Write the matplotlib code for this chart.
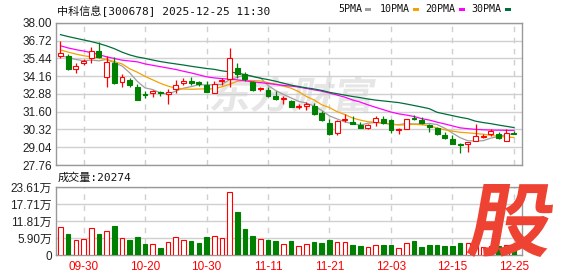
import matplotlib
matplotlib.use('Agg')
import matplotlib.pyplot as plt
from matplotlib.patches import Rectangle, PathPatch
from matplotlib.textpath import TextPath
from matplotlib.font_manager import FontProperties
from matplotlib.transforms import Affine2D

# trading days shown (60 bars)
dates = ['09-25', '09-26', '09-29', '09-30', '10-09', '10-10', '10-13', '10-14', '10-15', '10-16',
         '10-17', '10-20', '10-21', '10-22', '10-23', '10-24', '10-27', '10-28', '10-29', '10-30',
         '10-31', '11-03', '11-04', '11-05', '11-06', '11-07', '11-10', '11-11', '11-12', '11-13',
         '11-14', '11-17', '11-18', '11-19', '11-20', '11-21', '11-24', '11-25', '11-26', '11-27',
         '11-28', '12-01', '12-02', '12-03', '12-04', '12-05', '12-08', '12-09', '12-10', '12-11',
         '12-12', '12-15', '12-16', '12-17', '12-18', '12-19', '12-22', '12-23', '12-24', '12-25']

opens = [35.62, 35.59, 34.68, 35.11, 35.47, 35.97, 34.08, 35.14, 33.75, 33.92,
         33.42, 32.87, 32.97, 32.99, 32.87, 33.25, 33.65, 33.83, 33.73, 33.54,
         32.94, 33.80, 33.97, 34.73, 34.33, 33.73, 33.22, 33.18, 32.70, 32.49,
         32.34, 31.93, 32.04, 31.98, 31.51, 30.79, 30.07, 30.98, 30.86, 30.67,
         30.43, 30.86, 31.10, 30.98, 30.27, 30.39, 31.18, 30.98, 30.67, 30.46,
         29.91, 29.67, 29.26, 29.31, 29.48, 29.79, 30.00, 30.03, 29.50, 30.10]
highs = [36.69, 35.78, 35.11, 35.37, 36.26, 36.62, 35.62, 35.54, 34.30, 34.06,
         33.63, 33.13, 33.20, 33.13, 33.25, 33.92, 34.04, 34.13, 33.80, 33.80,
         33.85, 34.04, 36.17, 35.09, 34.44, 33.85, 33.37, 33.37, 33.08, 32.77,
         32.46, 32.18, 32.29, 32.22, 31.65, 31.10, 31.03, 31.46, 31.27, 30.86,
         30.75, 31.27, 31.27, 31.05, 30.46, 31.10, 31.34, 31.22, 30.75, 30.50,
         30.14, 29.91, 29.36, 29.43, 30.70, 30.03, 30.32, 30.14, 30.32, 30.19]
lows = [35.47, 34.63, 34.40, 34.99, 35.09, 35.47, 33.35, 33.58, 33.35, 33.35,
        32.42, 32.61, 32.63, 32.75, 32.15, 32.92, 33.56, 33.51, 33.47, 32.99,
        32.92, 33.56, 33.37, 34.04, 33.85, 33.08, 33.13, 32.65, 32.42, 32.18,
        31.93, 31.82, 31.70, 31.34, 30.91, 29.91, 29.91, 30.86, 30.70, 30.43,
        30.39, 30.55, 30.75, 30.07, 30.03, 30.34, 30.98, 30.70, 30.14, 29.91,
        29.67, 29.26, 28.64, 28.71, 29.48, 29.74, 29.84, 29.60, 29.50, 29.96]
closes = [35.85, 34.66, 34.92, 35.26, 35.97, 35.52, 35.21, 33.70, 34.11, 33.51,
          32.44, 32.82, 33.11, 32.92, 33.06, 33.56, 33.85, 33.68, 33.61, 33.02,
          33.61, 33.90, 35.47, 34.35, 33.97, 33.18, 33.30, 32.70, 32.51, 32.58,
          31.93, 32.01, 32.13, 31.41, 30.98, 29.98, 30.91, 31.08, 30.75, 30.46,
          30.67, 31.18, 30.82, 30.32, 30.36, 31.05, 31.05, 30.82, 30.50, 29.96,
          29.74, 29.26, 29.19, 29.41, 29.84, 29.86, 30.19, 29.74, 30.10, 30.03]

# volume in 万
volumes = [9.59, 7.27, 5.08, 5.42, 9.35, 7.27, 8.31, 10.04, 5.77, 5.19,
           6.23, 3.69, 3.69, 2.42, 4.39, 6.12, 5.08, 4.85, 4.15, 6.23,
           6.46, 5.77, 22.04, 14.77, 9.00, 6.58, 5.42, 5.19, 4.85, 3.69,
           4.85, 3.12, 3.69, 4.50, 4.15, 5.19, 4.50, 4.50, 3.46, 3.12,
           2.77, 3.35, 3.46, 3.46, 2.42, 4.04, 4.73, 2.77, 3.46, 3.46,
           3.12, 3.12, 4.15, 4.20, 3.50, 2.90, 3.20, 3.00, 3.40, 2.03]

ma5 = [35.66, 35.50, 35.37, 35.28, 35.33, 35.27, 35.38, 35.13, 34.90, 34.41,
       33.79, 33.32, 33.20, 32.96, 32.87, 33.09, 33.30, 33.41, 33.55, 33.54,
       33.55, 33.56, 33.92, 34.07, 34.26, 34.17, 34.05, 33.50, 33.13, 32.85,
       32.60, 32.35, 32.23, 32.01, 31.69, 31.30, 31.08, 30.87, 30.74, 30.64,
       30.77, 30.83, 30.78, 30.69, 30.67, 30.75, 30.72, 30.72, 30.76, 30.68,
       30.41, 30.06, 29.73, 29.51, 29.49, 29.51, 29.70, 29.81, 29.95, 29.98]
ma10 = [36.06, 35.90, 35.76, 35.64, 35.56, 35.48, 35.36, 35.22, 35.05, 34.70,
        34.45, 34.15, 33.90, 33.65, 33.45, 33.30, 33.24, 33.22, 33.24, 33.25,
        33.25, 33.40, 33.58, 33.80, 33.85, 33.85, 33.82, 33.70, 33.58, 33.45,
        33.30, 33.05, 32.70, 32.45, 32.10, 31.90, 31.60, 31.40, 31.15, 31.00,
        30.88, 30.84, 30.79, 30.72, 30.64, 30.66, 30.70, 30.66, 30.60, 30.42,
        30.30, 30.20, 30.12, 30.08, 30.03, 29.98, 29.90, 29.82, 29.78, 29.74]
ma20 = [36.36, 36.20, 36.08, 35.98, 35.86, 35.72, 35.56, 35.44, 35.32, 35.26,
        35.20, 35.05, 34.95, 34.85, 34.75, 34.65, 34.52, 34.40, 34.26, 34.12,
        34.04, 33.99, 33.95, 33.90, 33.84, 33.76, 33.70, 33.64, 33.57, 33.50,
        33.45, 33.38, 33.28, 33.18, 33.08, 32.95, 32.80, 32.65, 32.45, 32.30,
        32.10, 31.92, 31.75, 31.58, 31.45, 31.36, 31.26, 31.10, 31.00, 30.85,
        30.72, 30.58, 30.44, 30.38, 30.33, 30.30, 30.28, 30.27, 30.26, 30.25]
ma30 = [37.16, 37.02, 36.90, 36.78, 36.66, 36.52, 36.35, 36.15, 35.90, 35.70,
        35.55, 35.45, 35.33, 35.22, 35.13, 35.05, 34.97, 34.88, 34.80, 34.72,
        34.66, 34.55, 34.48, 34.38, 34.28, 34.14, 34.02, 33.92, 33.80, 33.66,
        33.52, 33.42, 33.32, 33.24, 33.14, 33.00, 32.90, 32.80, 32.70, 32.62,
        32.52, 32.44, 32.38, 32.32, 32.26, 32.16, 32.05, 31.94, 31.82, 31.56,
        31.44, 31.32, 31.20, 31.10, 30.92, 30.82, 30.74, 30.64, 30.55, 30.46]

tick_dates = ['09-30', '10-20', '10-30', '11-11', '11-21', '12-03', '12-15', '12-25']
price_ticks = [27.76, 29.04, 30.32, 31.60, 32.88, 34.16, 35.44, 36.72, 38.00]
vol_ticks = [0, 5.90, 11.81, 17.71, 23.61]
vol_labels = ['0', '5.90万', '11.81万', '17.71万', '23.61万']

RED = '#ff0000'
GREEN = '#008000'
GRID = '#d0d0d0'
NUMFONT = ['Liberation Sans', 'Noto Sans CJK SC']
MONOFONT = ['DejaVu Sans Mono', 'Noto Sans CJK SC']

W, H = 578, 276
fig = plt.figure(figsize=(W / 100, H / 100), dpi=100)


def box(l, t, r, b):
    return [l / W, 1 - b / H, (r - l) / W, (b - t) / H]


ax = fig.add_axes(box(56, 23, 522, 165))
axv = fig.add_axes(box(56, 187, 522, 255))

x = list(range(len(dates)))
tick_pos = [dates.index(d) for d in tick_dates]

# candles + volume bars
for i in x:
    o, h, l, c = opens[i], highs[i], lows[i], closes[i]
    up = c >= o
    col = RED if up else GREEN
    ax.vlines(i, l, h, color=col, lw=0.9, zorder=3)
    bottom = min(o, c)
    height = max(abs(c - o), 0.02)
    ax.add_patch(Rectangle((i - 0.32, bottom), 0.64, height,
                           facecolor='white' if up else GREEN,
                           edgecolor=col, lw=0.8, zorder=4))
    axv.add_patch(Rectangle((i - 0.3, 0), 0.6, volumes[i],
                            facecolor='white' if up else GREEN,
                            edgecolor=col, lw=0.8, zorder=3))

ax.plot(x, ma5, color='#a0a0a0', lw=0.9, zorder=2)
ax.plot(x, ma10, color='#f5a200', lw=0.9, zorder=2)
ax.plot(x, ma20, color='#ff00ff', lw=0.9, zorder=2)
ax.plot(x, ma30, color='#006e3a', lw=0.9, zorder=2)

for a in (ax, axv):
    a.set_xlim(-0.585, 60.05)
    a.set_xticks(tick_pos)
    a.xaxis.grid(True, color=GRID, lw=1, ls=(0, (4, 4)))
    a.yaxis.grid(True, color=GRID, lw=1, ls='-')
    a.tick_params(length=0)
    for s in a.spines.values():
        s.set_color('#999999')
        s.set_linewidth(1.0)

ax.set_ylim(27.76, 38.00)
ax.set_yticks(price_ticks)
ax.set_yticklabels(['%.2f' % v for v in price_ticks], fontfamily=NUMFONT,
                   fontsize=8.5, color='#222222')
ax.set_xticklabels([])
ax.tick_params(axis='y', pad=3)

axv.set_ylim(0, 23.61)
axv.set_yticks(vol_ticks)
axv.set_yticklabels(vol_labels, fontfamily=NUMFONT, fontsize=8.5, color='#222222')
axv.set_xticklabels(tick_dates, fontfamily=NUMFONT, fontsize=8.5, color=RED)
axv.tick_params(axis='y', pad=3)
axv.tick_params(axis='x', pad=4)

# titles
fig.text(57 / W, 1 - 11 / H, '中科信息[300678] 2025-12-25 11:30', fontfamily=MONOFONT,
         fontsize=8, va='center', ha='left', color='#111111')
fig.text(58 / W, 1 - 177.5 / H, '成交量:20274', fontfamily=MONOFONT,
         fontsize=8, va='center', ha='left', color='#111111')

# legend
legend = [('5PMA', 338, '#a0a0a0'), ('10PMA', 380, '#f5a200'),
          ('20PMA', 425.7, '#ff00ff'), ('30PMA', 471.7, '#006e3a')]
for name, lx, col in legend:
    fig.text(lx / W, 1 - 9.5 / H, name, fontfamily=MONOFONT, fontsize=7.2,
             va='center', ha='left', color='#111111')
    sx = lx + 6.05 * len(name) + 3
    fig.add_artist(Rectangle((sx / W, 1 - 11 / H), 6 / W, 3.5 / H,
                             facecolor=col, edgecolor='none', transform=fig.transFigure))


def glyph_patch(text, left, bottom, width, height, skew, color, zorder, weight='bold'):
    fp = FontProperties(family='Noto Sans CJK SC', weight=weight)
    tp = TextPath((0, 0), text, size=1, prop=fp)
    ext = tp.get_extents()
    tr = (Affine2D().translate(-ext.x0, -ext.y0)
          .scale(width / ext.width, height / ext.height)
          .skew_deg(skew, 0).translate(left, H - bottom))
    return PathPatch(tp, transform=tr, facecolor=color, edgecolor='none', zorder=zorder)


# watermark
wm = glyph_patch('东方财富', 210, 112, 160, 36, 10, '#e6e6e6', 1)
wm.set_clip_on(False)
ax.add_patch(wm)

# stock logo
fig.add_artist(glyph_patch('股', 466, 257, 80, 73, 10, '#ee4232', 10))

fig.savefig('out.png', dpi=100)
